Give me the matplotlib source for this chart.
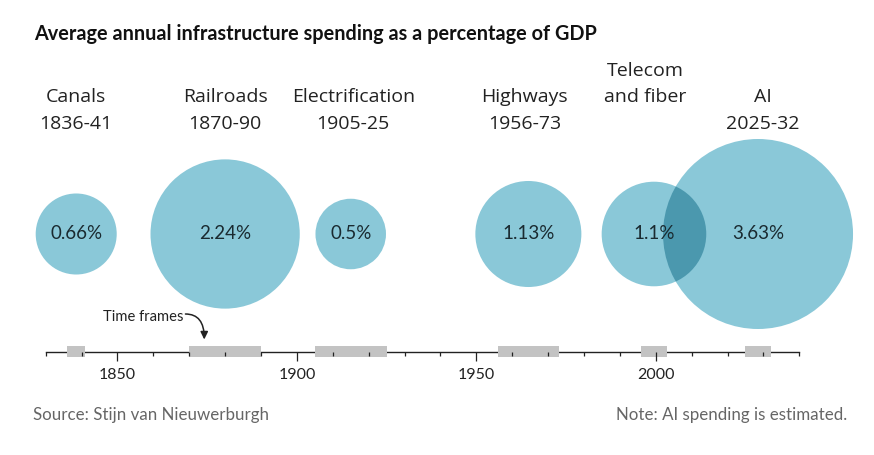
import matplotlib
matplotlib.use('Agg')
import matplotlib.pyplot as plt
from matplotlib.patches import Ellipse
import numpy as np

plt.rcParams['font.family'] = ['Lato', 'DejaVu Sans']
LABEL_FONT = ['Open Sans', 'DejaVu Sans']

# ---------------- data ----------------
categories = ['Canals', 'Railroads', 'Electrification', 'Highways', 'Telecom\nand fiber', 'AI']
period_labels = ['1836-41', '1870-90', '1905-25', '1956-73', '', '2025-32']
start_years = [1836, 1870, 1905, 1956, 1996, 2025]
end_years = [1841, 1890, 1925, 1973, 2003, 2032]
spending_pct = [0.66, 2.24, 0.5, 1.13, 1.1, 3.63]
value_labels = ['0.66%', '2.24%', '0.5%', '1.13%', '1.1%', '3.63%']
tick_years = list(range(1830, 2041, 10))
major_years = [1850, 1900, 1950, 2000]
title = 'Average annual infrastructure spending as a percentage of GDP'
source = 'Source: Stijn van Nieuwerburgh'
note = 'Note: AI spending is estimated.'

# ---------------- layout (pixels) ----------------
W, H, DPI = 874, 456, 100
AX_L, AX_R = 45.7, 799.3          # pixel positions of first / last tick
YEAR_MIN, YEAR_MAX = 1830, 2040
PPY = (AX_R - AX_L) / (YEAR_MAX - YEAR_MIN)   # pixels per year
BUBBLE_Y = 235
R_MAX = 95
AXIS_Y = 353.3
BUBBLE = '#8ac8d8'
OVERLAP = '#4b98ae'
label_nudge_px = [0, 0, 2.5, -3.5, -8.5, 4.8]

fig = plt.figure(figsize=(W / DPI, H / DPI), dpi=DPI)
fig.patch.set_facecolor('white')

# full-figure axes: x in years, y in pixels from top
ax = fig.add_axes([0, 0, 1, 1])
ax.set_xlim(YEAR_MIN - AX_L / PPY, YEAR_MIN + (W - AX_L) / PPY)
ax.set_ylim(H, 0)
ax.axis('off')

mids = [(s + e) / 2 for s, e in zip(start_years, end_years)]
vmax = max(spending_pct)
radii = [R_MAX * np.sqrt(v / vmax) for v in spending_pct]

patches = []
for m, r in zip(mids, radii):
    e = Ellipse((m, BUBBLE_Y), 2 * r / PPY, 2 * r, facecolor=BUBBLE, edgecolor='none', zorder=2)
    ax.add_patch(e)
    patches.append(e)

# darker overlap where bubbles intersect
for i in range(len(mids) - 1):
    d = (mids[i + 1] - mids[i]) * PPY
    if d < radii[i] + radii[i + 1]:
        o = Ellipse((mids[i], BUBBLE_Y), 2 * radii[i] / PPY, 2 * radii[i],
                    facecolor=OVERLAP, edgecolor='none', zorder=3)
        ax.add_patch(o)
        o.set_clip_path(patches[i + 1])

for m, lab in zip(mids, value_labels):
    ax.text(m, BUBBLE_Y - 1.5, lab, ha='center', va='center', fontsize=13.5,
            color='#1a2a30', zorder=5)

# category labels
for m, name, per, nud in zip(mids, categories, period_labels, label_nudge_px):
    x = m + nud / PPY
    lines = name.split('\n')
    for k, ln in enumerate(reversed(lines)):
        ax.text(x, 102.5 - 26.5 * k, ln, ha='center', va='baseline', fontsize=14,
                color='#222222', family=LABEL_FONT)
    if per:
        ax.text(x, 129.5, per, ha='center', va='baseline', fontsize=14,
                color='#222222', family=LABEL_FONT)

# title, source, note
ax.text(YEAR_MIN - (AX_L - 34) / PPY, 40.5, title, ha='left', va='baseline',
        fontsize=14.3, fontweight='bold', color='#111111')
ax.text(YEAR_MIN - (AX_L - 33) / PPY, 420, source, ha='left', va='baseline',
        fontsize=12.2, color='#666666')
ax.text(YEAR_MIN + (847 - AX_L) / PPY, 420, note, ha='right', va='baseline',
        fontsize=12.2, color='#666666')

# "Time frames" annotation pointing at the railroads time frame
rail = 1
ax.text(start_years[rail] - (189 - 183.5) / PPY, 321.5, 'Time frames', ha='right', va='baseline',
        fontsize=10.6, color='#222222')
ax.annotate('', xy=(start_years[rail] + (204.3 - 189.3) / PPY, 340.5),
            xytext=(start_years[rail] - (189.3 - 185.5) / PPY, 315),
            arrowprops=dict(arrowstyle='-|>,head_length=0.45,head_width=0.22',
                            connectionstyle='angle3,angleA=0,angleB=90',
                            color='#222222', lw=1.1, shrinkA=0, shrinkB=0))

# ---------------- timeline axis ----------------
ax2 = fig.add_axes([AX_L / W, (H - 372) / H, (AX_R - AX_L) / W, 44 / H])
ax2.set_xlim(YEAR_MIN, YEAR_MAX)
ax2.set_ylim(372, 328)
ax2.patch.set_alpha(0)
for s in ['left', 'right', 'top']:
    ax2.spines[s].set_visible(False)
ax2.spines['bottom'].set_position(('data', AXIS_Y))
ax2.spines['bottom'].set_color('#222222')
ax2.spines['bottom'].set_linewidth(1.0)
ax2.spines['bottom'].set_zorder(1)
ax2.set_yticks([])
ax2.set_xticks(major_years)
ax2.set_xticklabels([str(y) for y in major_years])
ax2.set_xticks([y for y in tick_years if y not in major_years], minor=True)
ax2.tick_params(axis='x', which='major', length=6.8, width=0.9, color='#222222',
                labelsize=11.5, labelcolor='#222222', pad=3.5)
ax2.tick_params(axis='x', which='minor', length=3.2, width=0.9, color='#222222')
ax2.xaxis.set_zorder(4)
ax2.barh(AXIS_Y - 1.0, [e - s for s, e in zip(start_years, end_years)], left=start_years,
         height=10.7, color='#c3c3c3', zorder=3)

fig.savefig('out.png', dpi=DPI, facecolor='white')
